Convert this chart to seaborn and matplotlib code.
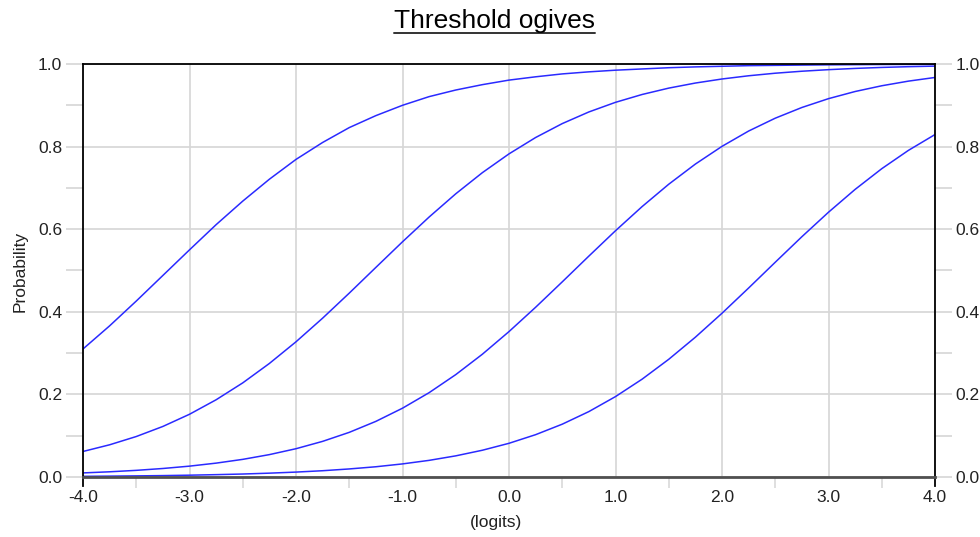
import matplotlib
matplotlib.use("Agg")
import numpy as np
import pandas as pd
import seaborn as sns
import matplotlib.pyplot as plt
from matplotlib.ticker import MultipleLocator, FixedLocator, FormatStrFormatter
from matplotlib.lines import Line2D

# ---- data ----
logits = [-4.0, -3.75, -3.5, -3.25, -3.0, -2.75, -2.5, -2.25, -2.0, -1.75, -1.5,
          -1.25, -1.0, -0.75, -0.5, -0.25, 0.0, 0.25, 0.5, 0.75, 1.0, 1.25, 1.5,
          1.75, 2.0, 2.25, 2.5, 2.75, 3.0, 3.25, 3.5, 3.75, 4.0]

threshold_1 = [0.310, 0.366, 0.426, 0.488, 0.550, 0.611, 0.668, 0.721, 0.769, 0.810,
               0.846, 0.875, 0.900, 0.921, 0.937, 0.950, 0.961, 0.969, 0.976, 0.981,
               0.985, 0.988, 0.991, 0.993, 0.9945, 0.996, 0.9967, 0.9974, 0.998,
               0.9984, 0.9988, 0.999, 0.9993]
threshold_2 = [0.0618, 0.0780, 0.0980, 0.1224, 0.1519, 0.1870, 0.2279, 0.2749, 0.3274,
               0.3846, 0.4452, 0.5075, 0.5695, 0.6295, 0.6857, 0.7369, 0.7824, 0.8220,
               0.8557, 0.8839, 0.9072, 0.9262, 0.9416, 0.9539, 0.9637, 0.9715, 0.9777,
               0.9825, 0.9863, 0.9893, 0.9917, 0.9935, 0.9949]
threshold_3 = [0.0099, 0.0126, 0.0161, 0.0206, 0.0263, 0.0336, 0.0427, 0.0542, 0.0685,
               0.0863, 0.1081, 0.1347, 0.1666, 0.2042, 0.2479, 0.2973, 0.3521, 0.4110,
               0.4725, 0.5349, 0.5963, 0.6548, 0.7089, 0.7577, 0.8006, 0.8377, 0.8688,
               0.8947, 0.9161, 0.9334, 0.9473, 0.9585, 0.9674]
threshold_4 = [0.0016, 0.0021, 0.0027, 0.0034, 0.0044, 0.0057, 0.0072, 0.0093, 0.0119,
               0.0152, 0.0195, 0.0248, 0.0317, 0.0403, 0.0512, 0.0648, 0.0816, 0.1025,
               0.1279, 0.1584, 0.1947, 0.2369, 0.2850, 0.3385, 0.3965, 0.4576, 0.5200,
               0.5818, 0.6411, 0.6964, 0.7465, 0.7908, 0.8292]

x_tick_values = [-4.0, -3.0, -2.0, -1.0, 0.0, 1.0, 2.0, 3.0, 4.0]
y_tick_values = [0.0, 0.2, 0.4, 0.6, 0.8, 1.0]

series = {"t1": threshold_1, "t2": threshold_2, "t3": threshold_3, "t4": threshold_4}
df = pd.concat(
    [pd.DataFrame({"logit": logits, "prob": v, "threshold": k}) for k, v in series.items()],
    ignore_index=True,
)

# ---- style ----
sns.set_theme(style="white")
plt.rcParams["font.family"] = ["Liberation Sans", "DejaVu Sans"]

W, H = 980, 537
fig = plt.figure(figsize=(W / 100, H / 100), dpi=100)
L, R, T, B = 83, 935, 64, 477
ax = fig.add_axes([L / W, 1 - B / H, (R - L) / W, (B - T) / H])

sns.lineplot(data=df, x="logit", y="prob", units="threshold", estimator=None,
             color="#2a2aff", linewidth=1.1, ax=ax, legend=False, sort=False)

ax.set_xlim(-4, 4)
ax.set_ylim(0, 1)
ax.set_xlabel("")
ax.set_ylabel("")

grid_c = "#d6d6d6"
ax.xaxis.set_major_locator(FixedLocator(x_tick_values))
ax.yaxis.set_major_locator(FixedLocator(y_tick_values))
ax.xaxis.set_major_formatter(FormatStrFormatter("%.1f"))
ax.yaxis.set_major_formatter(FormatStrFormatter("%.1f"))
ax.xaxis.set_minor_locator(FixedLocator([-3.5, -2.5, -1.5, -0.5, 0.5, 1.5, 2.5, 3.5]))
ax.yaxis.set_minor_locator(MultipleLocator(0.1))

ax.grid(True, which="major", color=grid_c, linewidth=1.2)
ax.set_axisbelow(True)

ax.tick_params(axis="x", which="major", length=0, pad=9, labelsize=12.5, colors="#222222")
ax.tick_params(axis="x", which="minor", length=8, width=1.1, color=grid_c, bottom=True)
ax.tick_params(axis="y", which="both", left=True, right=True, labelleft=True,
               labelright=True, length=12, width=1.2, color=grid_c)
ax.tick_params(axis="y", which="major", pad=3, labelsize=12.5, labelcolor="#222222")

for s in ["top", "left", "right"]:
    ax.spines[s].set_color("black")
    ax.spines[s].set_linewidth(1.3)
ax.spines["bottom"].set_color("#505050")
ax.spines["bottom"].set_linewidth(2.0)
ax.spines["left"].set_bounds(-0.022, 1.0)
ax.spines["right"].set_bounds(-0.022, 1.0)

# axis labels
fig.text(20 / W, 1 - 271 / H, "Probability", rotation=90, ha="center", va="center",
         fontsize=12.5, color="#222222")
fig.text(496 / W, 1 - 523 / H, "(logits)", ha="center", va="center",
         fontsize=12.5, color="#222222")

# underlined title
title = fig.text(494 / W, 1 - 28 / H, "Threshold ogives", ha="center", va="baseline",
                 fontsize=19, color="black")
fig.canvas.draw()
bb = title.get_window_extent(renderer=fig.canvas.get_renderer())
uy = 1 - 32.5 / H
fig.add_artist(Line2D([bb.x0 / W, bb.x1 / W], [uy, uy], transform=fig.transFigure,
                      color="#333333", linewidth=1.4))

fig.savefig("out.png", dpi=100)
